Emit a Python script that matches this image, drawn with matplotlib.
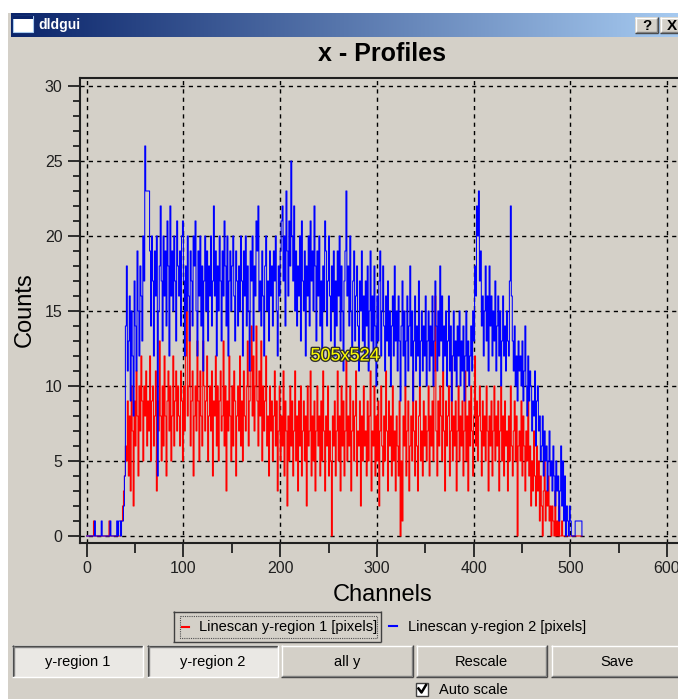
import matplotlib.pyplot as plt
import matplotlib.patches as mpatches
import matplotlib.patheffects as pe
import numpy as np

plt.rcParams['font.family'] = ['Liberation Sans', 'DejaVu Sans']

# counts per channel (one value per channel, 0..511)
red_counts = [
    0,0,0,0,0,0,0,1,0,0,0,0,0,0,0,0,0,0,0,0,0,0,0,1,0,0,0,0,0,0,0,0,
    0,0,0,1,1,2,3,4,6,5,9,4,8,3,10,7,2,9,6,11,8,4,10,7,12,9,5,10,8,11,6,9,
    7,12,5,9,10,6,8,11,3,9,7,13,8,5,10,6,12,8,4,9,11,7,10,5,8,12,6,9,11,7,10,8,
    6,11,9,5,10,7,12,17,8,10,15,6,9,11,4,8,10,7,13,9,5,11,8,6,13,10,7,9,12,5,8,10,
    7,11,4,9,8,12,6,10,5,9,11,7,8,13,6,10,3,9,7,12,8,5,10,6,11,9,4,8,10,7,12,6,
    9,5,11,8,7,10,13,6,9,11,14,8,12,7,10,14,9,6,11,8,13,5,10,7,9,12,6,8,4,10,7,9,
    5,8,11,6,9,3,7,10,5,8,6,11,4,9,7,2,8,5,10,6,9,4,7,11,5,8,3,9,6,10,4,7,
    9,5,8,2,10,6,7,11,4,8,5,9,3,7,10,6,8,4,9,5,11,7,3,8,6,10,4,7,5,0,8,6,
    9,4,7,11,5,8,3,10,6,9,4,7,12,5,8,6,10,3,7,9,5,8,11,4,7,6,9,2,8,5,10,6,
    7,4,9,5,8,11,3,7,6,10,4,8,5,9,2,7,10,6,4,8,5,11,7,3,9,6,8,4,10,5,7,3,
    8,6,4,9,0,5,1,8,6,10,4,7,9,3,6,8,5,11,7,4,9,6,3,8,10,5,7,4,9,6,8,5,
    7,10,4,8,6,9,5,11,16,7,4,9,6,10,8,5,11,7,3,9,6,8,10,4,7,12,5,8,6,9,3,7,
    10,5,8,6,9,4,7,11,5,8,3,9,6,10,7,4,8,12,6,9,5,8,10,7,4,9,6,8,5,10,7,3,
    8,6,9,4,7,10,5,8,6,9,3,7,10,5,8,4,9,6,7,3,8,5,10,6,4,7,9,5,8,0,6,7,
    5,9,4,8,6,3,7,5,9,4,6,2,5,3,7,4,2,6,3,5,1,4,2,0,3,5,1,3,2,4,1,2,
    0,2,1,0,3,0,1,0,2,0,0,1,0,0,0,0,0,0,0,0,0,0,0,0,0,0,0,0,0,0,0,0,
]
blue_counts = [
    0,0,0,0,0,0,0,0,1,0,0,0,0,0,0,1,0,0,0,0,0,0,0,0,1,0,0,0,0,0,0,1,
    0,1,1,0,1,1,2,4,14,18,11,13,16,9,15,12,8,17,14,11,19,15,12,18,16,13,20,17,26,23,23,23,
    23,19,14,20,17,12,19,16,20,4,15,18,22,17,13,20,16,19,14,21,18,12,22,16,19,15,20,17,13,21,18,16,
    19,14,20,21,17,12,18,15,20,16,13,19,17,14,20,18,21,15,12,19,16,20,14,18,11,17,20,15,19,13,18,16,
    20,14,17,22,16,19,12,18,15,20,17,13,19,16,21,18,14,20,12,17,19,15,18,20,16,13,19,17,14,18,15,20,
    17,12,19,16,20,14,18,15,11,19,17,20,13,18,16,21,19,22,15,17,14,19,16,12,18,20,15,17,13,19,16,18,
    14,19,17,20,15,12,18,16,19,21,22,17,20,14,23,19,16,21,18,25,20,17,22,15,19,14,18,16,20,13,21,17,
    15,19,12,18,16,20,14,21,17,19,15,22,18,13,19,16,20,14,17,12,18,15,21,19,14,17,20,16,13,18,15,19,
    12,17,14,19,16,20,13,18,15,11,17,19,23,16,18,14,20,15,12,17,19,13,16,18,14,11,17,15,19,13,16,12,
    17,14,18,11,15,19,13,16,12,18,14,10,16,13,17,19,12,15,18,14,11,16,13,17,12,15,10,14,16,12,18,13,
    15,11,16,13,9,14,17,12,15,10,13,16,11,14,18,12,15,9,13,16,11,14,12,17,10,13,15,11,14,12,16,10,
    13,15,11,14,12,16,10,13,17,14,11,15,12,18,13,16,11,14,12,15,10,13,16,11,14,9,12,15,11,13,10,14,
    12,15,10,13,11,14,9,12,15,11,13,10,12,14,11,15,13,18,16,22,20,23,17,19,14,16,12,15,18,13,16,11,
    18,14,16,12,15,13,17,11,14,16,12,15,10,13,16,12,14,11,15,13,12,17,22,16,13,11,14,10,12,9,13,11,
    12,10,13,9,11,14,10,8,12,9,11,10,7,9,8,11,6,9,10,7,8,5,6,8,4,7,5,6,3,5,7,4,
    5,3,6,4,2,5,3,4,1,3,6,2,5,1,4,0,2,1,0,2,1,0,0,0,0,1,1,1,1,1,1,1,
]
series_labels = ['Linescan y-region 1 [pixels]', 'Linescan y-region 2 [pixels]']
button_labels = ['y-region 1', 'y-region 2', 'all y', 'Rescale', 'Save']
x_ticks = [0, 100, 200, 300, 400, 500, 600]
y_ticks = [0, 5, 10, 15, 20, 25, 30]

W, H = 678, 699
GRAY = '#d4d0c8'
DARK = '#404040'
MID = '#808080'

fig = plt.figure(figsize=(W / 100, H / 100), dpi=100)
fig.patch.set_facecolor('white')

# background axes in pixel coordinates for the window chrome
bg = fig.add_axes([0, 0, 1, 1])
bg.axis('off')


def rect(x0, y0, x1, y1, z=3, **kw):
    bg.add_patch(mpatches.Rectangle((x0, y0), x1 - x0, y1 - y0, zorder=z, **kw))


def hline(x0, x1, y, c):
    bg.plot([x0, x1], [y, y], color=c, lw=1.0, solid_capstyle='butt', zorder=4)


def vline(x, y0, y1, c):
    bg.plot([x, x], [y0, y1], color=c, lw=1.0, solid_capstyle='butt', zorder=4)


def button(x0, y0, x1, y1, label, pressed=False, **tkw):
    if pressed:
        rect(x0, y0, x1, y1, facecolor='#eae8e4', edgecolor='none')
        hline(x0, x1, y0 + 0.5, DARK); vline(x0 + 0.5, y0, y1, DARK)
        hline(x0 + 1, x1 - 1, y0 + 1.5, MID); vline(x0 + 1.5, y0 + 1, y1 - 1, MID)
        hline(x0, x1, y1 - 0.5, 'white'); vline(x1 - 0.5, y0, y1, 'white')
    else:
        rect(x0, y0, x1, y1, facecolor=GRAY, edgecolor='none')
        hline(x0, x1, y0 + 0.5, 'white'); vline(x0 + 0.5, y0, y1, 'white')
        hline(x0, x1, y1 - 0.5, DARK); vline(x1 - 0.5, y0, y1, DARK)
        hline(x0 + 1, x1 - 1, y1 - 1.5, MID); vline(x1 - 1.5, y0 + 1, y1 - 1, MID)
    bg.text((x0 + x1) / 2, (y0 + y1) / 2 + 1, label, ha='center', va='center',
            zorder=5, **tkw)


# window body and title bar
rect(8, 13, W + 5, H + 5, z=1, facecolor=GRAY, edgecolor='none')
c0 = np.array([10, 36, 106]) / 255
c1 = np.array([166, 202, 240]) / 255
t = np.linspace(0, 1, 256)[None, :, None]
grad = c0 + (c1 - c0) * t
bg.imshow(grad, extent=(11, W, 37, 13), aspect='auto', interpolation='bilinear', zorder=2)
rect(13, 16, 33, 32, facecolor='white', edgecolor='#a6caf0', lw=0.8)
rect(13, 16, 33, 19, facecolor='#0a246a', edgecolor='none')
bg.text(38, 25, 'dldgui', color='white', fontsize=10, fontweight='bold', va='center', zorder=5)
button(635, 17, 658, 33, '?', fontsize=11, fontweight='bold')
button(660, 17, 684, 33, 'X', fontsize=11, fontweight='bold')

bg.text(382, 54, 'x - Profiles', ha='center', va='center', fontsize=18, fontweight='bold')
bg.text(25, 310, 'Counts', ha='center', va='center', rotation=90, fontsize=17)
bg.text(383, 595, 'Channels', ha='center', va='center', fontsize=17)

# legend
rect(173, 611, 381, 642, facecolor=GRAY, edgecolor='none')
hline(173, 381, 611.5, DARK); vline(173.5, 611, 642, DARK)
hline(173, 381, 641.5, DARK); vline(380.5, 611, 642, DARK)
bg.add_patch(mpatches.Rectangle((180, 616), 197, 22, fill=False, edgecolor='#505050',
                                 lw=0.8, linestyle=(0, (1, 1)), zorder=4))
bg.plot([182, 189], [627, 627], color='red', lw=1.5, zorder=4)
bg.text(199, 627, series_labels[0], va='center', fontsize=10.5, zorder=5)
bg.plot([389, 397], [626, 626], color='blue', lw=1.5, zorder=4)
bg.text(408, 627, series_labels[1], va='center', fontsize=10.5, zorder=5)

# buttons
bx = [(12, 143), (147, 278), (281, 413), (416, 547), (551, 684)]
for i, (a, b) in enumerate(bx):
    button(a, 645, b, 677, button_labels[i], pressed=i < 2, fontsize=10.5)

# checkbox
rect(416, 683, 428, 696, facecolor='white', edgecolor=DARK, lw=1.0)
bg.plot([418.5, 421.5, 426], [688.5, 692.5, 685], color='black', lw=1.8, zorder=5)
bg.text(439, 690, 'Auto scale', va='center', fontsize=10.5, zorder=5)

bg.set_xlim(0, W)
bg.set_ylim(H, 0)

# plot area
ax = fig.add_axes([80 / W, 1 - 543 / H, 600 / W, (543 - 78) / H])
ax.set_facecolor('none')
x = np.arange(len(red_counts) + 1)
ax.step(x, red_counts + [0], where='post', color='#ff0000', lw=0.75)
ax.step(x, blue_counts + [0], where='post', color='#0000ff', lw=0.75)

ax.set_xlim(-6.93, 613.4)
ax.set_ylim(-0.467, 30.533)
ax.set_xticks(x_ticks)
ax.set_xticks([50, 150, 250, 350, 450, 550], minor=True)
ax.set_yticks(y_ticks)
ax.set_yticks([v for v in range(31) if v % 5], minor=True)
ax.grid(True, which='major', color='black', linestyle=(0, (3, 3)), lw=1.0)
ax.tick_params(axis='both', which='both', direction='out', colors='#202020',
               width=1.3, labelsize=11.5)
ax.tick_params(axis='y', which='major', length=8.6, pad=4)
ax.tick_params(axis='y', which='minor', length=5)
ax.tick_params(axis='x', which='major', length=10, pad=3)
ax.tick_params(axis='x', which='minor', length=7)
for s in ['left', 'top', 'bottom']:
    ax.spines[s].set_color('#202020')
    ax.spines[s].set_linewidth(1.5)
ax.spines['right'].set_visible(False)

ax.text(345, 356, '505x524', transform=bg.transData, color='#ffff00', fontsize=13,
        ha='center', va='center', zorder=10,
        path_effects=[pe.withStroke(linewidth=2, foreground='#303030')])

fig.savefig('out.png', dpi=100)
